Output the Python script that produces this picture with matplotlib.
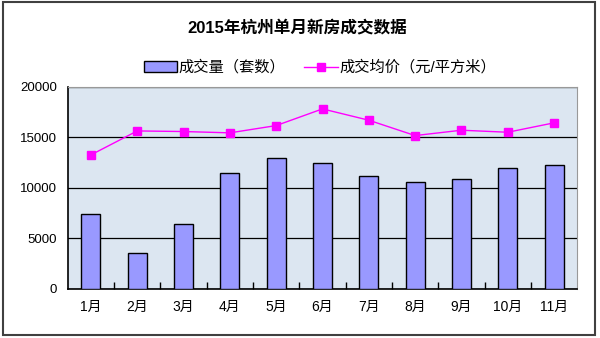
import matplotlib.pyplot as plt
from matplotlib.patches import Rectangle
from matplotlib.lines import Line2D
import numpy as np

months = ['1月', '2月', '3月', '4月', '5月', '6月', '7月', '8月', '9月', '10月', '11月']
volume = [7450, 3600, 6400, 11450, 13000, 12500, 11200, 10550, 10850, 11950, 12250]
price = [13270, 15640, 15580, 15450, 16170, 17820, 16700, 15180, 15710, 15510, 16440]
yticks = [0, 5000, 10000, 15000, 20000]

plt.rcParams['font.family'] = ['Liberation Sans', 'Noto Sans CJK SC', 'DejaVu Sans']

fig = plt.figure(figsize=(6, 3.38), dpi=100)
ax = fig.add_axes([0.113, 0.145, 0.849, 0.598])
ax.set_facecolor('#dce6f1')

x = np.arange(len(months))
ax.bar(x, volume, width=0.41, color='#9999ff', edgecolor='black', linewidth=1, zorder=3)
ax.plot(x, price, color='#ff00ff', lw=1, marker='s', ms=6, zorder=4)

ax.set_xlim(-0.5, len(months) - 0.5)
ax.set_ylim(0, 20000)
ax.set_yticks(yticks)
ax.yaxis.grid(True, color='black', lw=0.9, zorder=1)
ax.set_axisbelow(True)
ax.tick_params(axis='y', length=0, labelsize=9.5, pad=8)

ax.set_xticks(x)
ax.set_xticklabels(months, fontsize=10)
ax.set_xticks(x[:-1] + 0.5, minor=True)
ax.tick_params(axis='x', which='major', length=0, pad=8)
ax.tick_params(axis='x', which='minor', direction='in', length=5, width=1)

for s in ['left', 'bottom']:
    ax.spines[s].set_color('black')
    ax.spines[s].set_linewidth(1.2)
for s in ['top', 'right']:
    ax.spines[s].set_color('#999999')
    ax.spines[s].set_linewidth(0.8)

fig.text(0.495, 0.92, '2015年杭州单月新房成交数据', ha='center', va='center',
         fontsize=12, fontweight='bold')

handles = [Rectangle((0, 0), 1, 1, facecolor='#9999ff', edgecolor='black'),
           Line2D([], [], color='#ff00ff', marker='s', ms=6, lw=1)]
fig.legend(handles, ['成交量（套数）', '成交均价（元/平方米）'], loc='center',
           bbox_to_anchor=(0.533, 0.80), ncol=2, frameon=False, fontsize=11,
           handlelength=2.2, handletextpad=0.1, columnspacing=1.2)

fig.patches.append(Rectangle((0.005, 0.008), 0.987, 0.985, transform=fig.transFigure,
                             fill=False, edgecolor='#404040', lw=1.5))

fig.savefig('out.png', dpi=100)
